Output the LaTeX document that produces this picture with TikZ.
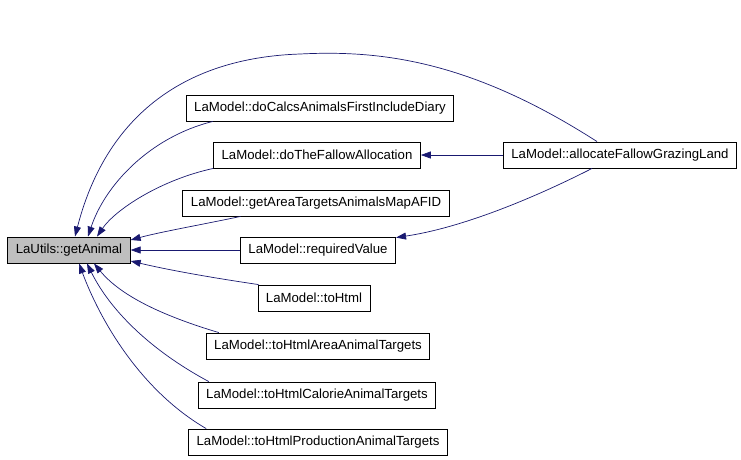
\documentclass[tikz,border=0pt]{standalone}
\usepackage{fontspec}
\setmainfont{Liberation Sans}
\usepackage{xcolor}
\usepackage{tikz}
\usetikzlibrary{arrows.meta}

\definecolor{edgeblue}{RGB}{25,25,112}
\definecolor{hlgray}{RGB}{191,191,191}

\begin{document}
\begin{tikzpicture}[
  x=1pt, y=-1pt,
  fn/.style={draw,line width=0.9pt,fill=white,minimum height=26pt,
             inner xsep=8pt,font=\fontsize{13.2}{15}\selectfont},
  cur/.style={fn,fill=hlgray},
  call/.style={-{Triangle[length=10pt,width=7pt]},edgeblue,line width=0.7pt}
]
\useasboundingbox (0,0) rectangle (741,459);

\node[cur] (getanimal)   at (69,250)  {LaUtils::getAnimal};
\node[fn]  (docalcs)     at (320,108) {LaModel::doCalcsAnimalsFirstIncludeDiary};
\node[fn]  (dofallow)    at (317,155) {LaModel::doTheFallowAllocation};
\node[fn]  (areatargets) at (316,203) {LaModel::getAreaTargetsAnimalsMapAFID};
\node[fn]  (reqvalue)    at (318,250) {LaModel::requiredValue};
\node[fn]  (tohtml)      at (314,298) {LaModel::toHtml};
\node[fn]  (tohtmlarea)  at (318,346) {LaModel::toHtmlAreaAnimalTargets};
\node[fn]  (tohtmlcal)   at (317,395) {LaModel::toHtmlCalorieAnimalTargets};
\node[fn]  (tohtmlprod)  at (318,442) {LaModel::toHtmlProductionAnimalTargets};
\node[fn]  (allocfallow) at (620,155) {LaModel::allocateFallowGrazingLand};

% callers of getAnimal
\draw[call] ([xshift=-23pt]allocfallow.north) .. controls (470,60) and (380,50) .. (300,54)
  .. controls (180,58) and (105,120) .. ([xshift=6pt]getanimal.north);
\draw[call] ([xshift=27pt]docalcs.south west) .. controls (150,137) and (105,185) .. ([xshift=19pt]getanimal.north);
\draw[call] (dofallow.south west) .. controls (160,180) and (115,210) .. ([xshift=28pt]getanimal.north);
\draw[call] ([xshift=58pt]areatargets.south west) .. controls (200,225) and (160,232) .. ([yshift=10pt]getanimal.east);
\draw[call] (reqvalue) -- (getanimal);
\draw[call] ([xshift=1pt]tohtml.north west) .. controls (200,276) and (160,268) .. ([yshift=-11pt]getanimal.east);
\draw[call] ([xshift=13pt]tohtmlarea.north west) .. controls (160,315) and (120,295) .. ([xshift=25pt]getanimal.south);
\draw[call] ([xshift=11pt]tohtmlcal.north west) .. controls (150,350) and (110,310) .. ([xshift=18pt]getanimal.south);
\draw[call] ([xshift=18pt]tohtmlprod.north west) .. controls (140,390) and (100,320) .. ([xshift=10pt]getanimal.south);

% callers via allocateFallowGrazingLand
\draw[call] (allocfallow) -- (dofallow);
\draw[call] ([xshift=-28pt]allocfallow.south) .. controls (530,200) and (460,228) .. ([yshift=-1pt]reqvalue.north east);
\end{tikzpicture}
\end{document}
